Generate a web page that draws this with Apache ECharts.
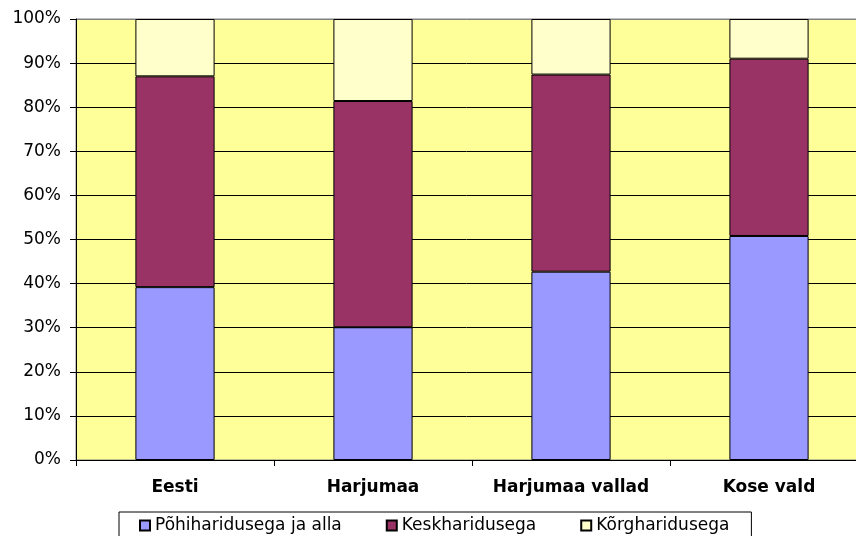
<!DOCTYPE html>
<html>
<head>
<meta charset="utf-8">
<script src="https://cdn.jsdelivr.net/npm/echarts@6/dist/echarts.min.js"></script>
<style>html,body{margin:0;padding:0;background:#fff;}#c{width:856px;height:536px;}</style>
</head>
<body>
<div id="c"></div>
<script>
const categories = ['Eesti', 'Harjumaa', 'Harjumaa vallad', 'Kose vald'];
const seriesNames = ['Põhiharidusega ja alla', 'Keskharidusega', 'Kõrgharidusega'];
const pohi = [39.2, 30.1, 42.7, 50.8];
const kesk = [47.8, 51.3, 44.7, 40.2];
const korg = [13.0, 18.6, 12.6, 9.0];
const colors = ['#9999FF', '#993366', '#FFFFCC'];

const font = 'DejaVu Sans, Verdana, sans-serif';
const chart = echarts.init(document.getElementById('c'), null, {renderer: 'canvas'});
const mk = (name, data, i) => ({
  name: name, type: 'bar', stack: 'all', data: data, barWidth: '40%',
  itemStyle: {color: colors[i], borderColor: '#000', borderWidth: 1},
  emphasis: {disabled: true}
});
const gridColors = ['#000','#000','#000','#000','#000','#000','#000','#000','#000','#000','#808080'];
chart.setOption({
  animation: false,
  textStyle: {fontFamily: font},
  grid: {left: 76, top: 19, bottom: 76, width: 792, outerBoundsMode: 'none', show: true, backgroundColor: '#FFFF99', borderColor: '#808080', borderWidth: 1, containLabel: false},
  legend: {
    left: 119, top: 512, orient: 'horizontal',
    padding: [5, 22, 8, 20], itemGap: 44, itemWidth: 10, itemHeight: 10,
    borderColor: '#000', borderWidth: 1, backgroundColor: '#fff',
    textStyle: {fontSize: 17, color: '#000', fontFamily: font},
    data: seriesNames.map(n => ({name: n, icon: 'rect'}))
  },
  xAxis: {
    type: 'category', data: categories,
    axisLine: {lineStyle: {color: '#000', width: 1}},
    axisTick: {show: true, length: 6, lineStyle: {color: '#000'}},
    axisLabel: {fontSize: 17, fontWeight: 'bold', color: '#000', margin: 19, fontFamily: font, interval: 0},
    splitLine: {show: false}
  },
  yAxis: {
    type: 'value', min: 0, max: 100, interval: 10,
    axisLine: {show: true, lineStyle: {color: '#000', width: 1}},
    axisTick: {show: true, length: 6, lineStyle: {color: '#000'}},
    axisLabel: {fontSize: 17, color: '#000', margin: 15, fontFamily: font, formatter: v => v + '%'},
    splitLine: {show: true, lineStyle: {color: gridColors, width: 1}}
  },
  series: [mk(seriesNames[0], pohi, 0), mk(seriesNames[1], kesk, 1), mk(seriesNames[2], korg, 2)]
});
</script>
</body>
</html>
